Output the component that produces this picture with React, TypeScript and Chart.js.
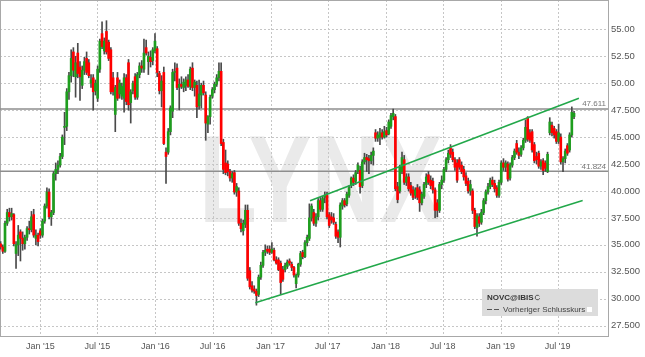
import React, { useEffect, useRef } from "react";
import { Chart, registerables } from "chart.js";

Chart.register(...registerables);

// Weekly candles [open, high, low, close]; week index 0 = week of 1 Jan 2015
const FIRST_WEEK = -18;

const candles2014 = [
  [35.1, 35.3, 34.6, 34.8], [34.8, 35.0, 34.2, 34.4], [34.4, 37.2, 34.3, 37.0], [37.0, 38.3, 36.8, 38.0],
  [38.0, 38.4, 37.2, 37.6], [37.6, 38.4, 37.3, 37.9], [37.8, 37.9, 34.9, 35.1], [34.2, 35.3, 32.8, 35.0],
  [35.0, 36.8, 34.0, 35.9], [36.2, 36.4, 33.5, 35.6], [35.6, 36.2, 34.5, 35.1], [35.1, 35.9, 34.6, 35.7],
  [35.7, 36.7, 35.4, 36.5], [36.5, 37.2, 36.0, 36.4], [36.4, 38.1, 36.2, 37.6], [37.8, 38.3, 35.7, 35.9],
  [35.6, 36.4, 35.0, 35.9], [35.9, 36.1, 34.9, 35.3],
];

const candles2015 = [
  [36.3, 36.5, 35.6, 35.9], [35.9, 37.4, 35.7, 37.2], [37.2, 38.8, 37.0, 38.6], [38.6, 40.3, 38.4, 39.9],
  [39.9, 40.2, 37.4, 37.6], [37.6, 38.2, 36.8, 38.0], [38.0, 41.8, 37.8, 41.6], [41.6, 42.6, 41.0, 42.0],
  [42.0, 42.8, 41.6, 42.4], [42.4, 43.5, 42.2, 43.2], [43.2, 45.2, 43.0, 45.0], [45.9, 47.3, 44.3, 46.0],
  [46.0, 49.5, 45.6, 49.2], [49.2, 51.0, 48.5, 50.7], [50.7, 53.1, 50.1, 52.3], [52.9, 53.3, 50.6, 51.2],
  [50.6, 52.5, 48.7, 51.9], [52.8, 53.7, 50.5, 50.9], [51.5, 52.0, 48.4, 50.6], [49.8, 51.6, 49.5, 51.2],
  [51.2, 52.4, 50.8, 52.0], [52.3, 52.9, 50.8, 51.0], [51.9, 52.2, 50.5, 50.7], [50.0, 50.8, 49.6, 50.3],
  [50.5, 50.8, 47.5, 49.2], [49.3, 50.3, 48.9, 50.0], [48.6, 51.6, 48.3, 51.3], [51.3, 54.1, 51.0, 53.9],
  [54.6, 55.7, 53.2, 53.4], [53.0, 54.2, 52.7, 53.9], [54.8, 55.8, 52.7, 52.9], [53.8, 54.0, 52.1, 52.3],
  [53.1, 53.3, 49.0, 49.2], [50.5, 51.0, 48.9, 49.2], [47.1, 49.8, 45.5, 49.6], [50.5, 51.0, 48.4, 48.6],
  [49.0, 50.3, 48.6, 50.0], [48.8, 50.0, 48.5, 49.7], [48.6, 50.9, 47.3, 50.5], [50.5, 50.8, 48.0, 48.3],
  [51.9, 52.2, 47.5, 48.0], [48.2, 49.4, 46.3, 49.2], [49.3, 50.2, 49.0, 50.0], [50.6, 50.9, 48.5, 48.7],
  [48.7, 51.0, 48.5, 50.8], [50.8, 51.9, 50.5, 51.6], [51.6, 52.1, 51.0, 51.4], [51.3, 54.1, 51.0, 52.8],
  [53.3, 54.0, 52.6, 52.8], [52.0, 52.9, 50.8, 52.5], [52.4, 53.0, 51.5, 52.0], [52.1, 53.3, 51.7, 53.1],
];

const candles2016 = [
  [53.0, 54.6, 52.8, 53.9], [53.2, 53.4, 50.6, 51.0], [50.9, 51.1, 49.0, 49.3], [49.3, 50.7, 47.8, 50.2],
  [51.0, 51.5, 44.3, 44.4], [43.6, 44.0, 40.7, 43.2], [43.6, 45.8, 43.4, 45.5], [45.5, 47.9, 45.2, 47.7],
  [47.4, 51.3, 46.8, 51.0], [51.0, 51.9, 50.2, 51.1], [51.4, 51.8, 49.4, 49.6], [49.6, 50.4, 47.5, 49.9],
  [49.9, 50.6, 49.5, 49.7], [49.6, 50.4, 49.2, 50.1], [49.8, 50.6, 49.3, 50.3], [50.3, 50.8, 49.6, 49.7],
  [49.7, 51.5, 49.4, 51.3], [51.4, 51.9, 49.3, 49.6], [49.6, 50.3, 48.8, 50.1], [49.8, 50.2, 46.8, 47.8],
  [47.9, 50.3, 47.6, 49.0], [48.9, 50.0, 47.7, 49.8], [49.8, 50.2, 48.9, 49.1], [48.9, 49.2, 44.7, 46.3],
  [46.2, 47.0, 45.4, 46.9], [46.9, 48.9, 46.2, 48.7], [48.8, 49.6, 48.6, 49.4], [49.4, 50.1, 49.1, 49.9],
  [49.9, 50.8, 49.7, 50.5], [50.5, 51.9, 50.2, 51.1], [51.1, 51.9, 44.2, 44.4], [44.5, 44.8, 41.6, 42.0],
  [42.6, 43.8, 41.5, 41.7], [42.5, 42.8, 41.4, 41.8], [41.8, 42.0, 40.9, 41.2], [41.2, 41.8, 40.8, 41.6],
  [41.7, 41.9, 39.7, 39.9], [39.9, 40.7, 39.5, 40.4], [40.0, 40.3, 36.8, 37.0], [37.0, 37.4, 36.2, 36.5],
  [36.3, 37.3, 35.9, 37.0], [36.9, 38.7, 36.6, 38.2], [38.2, 38.7, 31.7, 31.9], [32.6, 32.9, 30.9, 31.1],
  [31.2, 31.6, 30.6, 30.8], [30.9, 31.2, 30.5, 30.7], [30.7, 30.9, 29.4, 30.3], [30.4, 32.2, 30.2, 32.0],
  [32.0, 33.4, 31.8, 33.1], [33.1, 34.5, 32.9, 34.3], [34.3, 35.0, 34.0, 34.5], [34.6, 34.9, 34.2, 34.4],
];

const candles2017 = [
  [34.6, 34.9, 34.1, 34.3], [34.3, 35.2, 34.2, 34.6], [34.5, 34.7, 33.5, 33.6], [33.6, 33.9, 33.2, 33.3],
  [33.6, 33.8, 32.6, 32.7], [33.3, 33.5, 30.4, 31.5], [32.7, 33.0, 31.6, 31.8], [32.7, 33.3, 32.5, 33.1],
  [33.0, 33.6, 32.8, 33.4], [33.5, 33.7, 33.1, 33.3], [33.2, 33.4, 32.6, 32.9], [32.9, 33.0, 32.0, 32.2],
  [31.4, 32.3, 31.0, 32.2], [32.2, 33.3, 32.0, 33.2], [33.2, 34.4, 33.0, 34.2], [34.3, 34.5, 33.7, 33.9],
  [33.9, 35.4, 33.8, 35.2], [35.2, 35.9, 34.9, 35.7], [35.6, 38.8, 35.4, 37.5], [37.5, 38.8, 37.2, 38.6],
  [38.0, 38.3, 36.8, 37.0], [37.0, 37.9, 36.7, 37.6], [37.6, 39.3, 37.3, 39.1], [39.1, 39.4, 38.1, 38.3],
  [38.3, 39.5, 38.1, 39.3], [39.4, 39.9, 38.9, 39.6], [39.6, 39.9, 37.4, 37.6], [37.8, 38.0, 36.6, 36.8],
  [37.6, 38.0, 37.0, 37.3], [37.5, 37.9, 36.9, 37.1], [36.9, 37.1, 35.6, 35.8], [36.2, 36.4, 35.2, 35.7],
  [35.7, 38.9, 34.8, 38.7], [38.6, 39.3, 38.3, 39.1], [39.1, 39.3, 38.5, 38.7], [38.8, 39.9, 38.6, 39.7],
  [39.6, 40.5, 39.4, 40.3], [40.5, 41.3, 40.3, 41.2], [41.2, 41.5, 40.5, 40.8], [40.9, 41.9, 40.6, 41.7],
  [41.8, 42.6, 41.6, 42.4], [41.9, 42.3, 39.8, 40.4], [40.5, 42.9, 40.3, 42.7], [42.7, 43.5, 42.5, 43.1],
  [43.1, 43.4, 41.8, 42.9], [43.0, 43.3, 41.6, 42.8], [42.8, 43.6, 42.5, 43.3], [43.3, 44.0, 42.4, 43.7],
  [45.4, 45.7, 44.6, 44.9], [44.9, 45.5, 44.6, 45.2], [45.0, 45.8, 44.3, 45.4], [45.4, 45.7, 44.8, 45.0],
];

const candles2018 = [
  [45.0, 46.0, 44.9, 45.5], [45.6, 45.9, 45.0, 45.2], [45.3, 46.6, 45.2, 46.4], [46.0, 47.2, 45.8, 47.0],
  [46.9, 47.6, 46.6, 47.2], [46.9, 47.1, 40.0, 40.2], [40.4, 40.8, 38.9, 39.2], [40.0, 42.4, 39.8, 42.2],
  [41.8, 43.6, 41.6, 43.1], [42.9, 43.3, 40.6, 40.8], [40.8, 41.6, 40.5, 41.3], [41.3, 41.6, 40.0, 40.2],
  [40.5, 40.8, 39.6, 39.8], [40.1, 40.4, 39.2, 39.4], [39.6, 40.3, 39.3, 40.1], [40.3, 40.6, 39.2, 39.4],
  [40.1, 40.4, 38.1, 38.9], [38.9, 39.9, 38.7, 39.7], [39.5, 40.8, 39.3, 40.6], [40.6, 41.6, 40.3, 41.3],
  [41.5, 41.8, 40.6, 40.8], [41.0, 41.4, 40.2, 40.5], [40.9, 41.2, 39.8, 40.1], [40.1, 40.3, 37.5, 38.2],
  [38.9, 39.2, 37.6, 38.2], [38.2, 40.8, 38.0, 40.6], [40.6, 41.4, 40.2, 41.0], [41.0, 42.2, 40.8, 42.0],
  [42.0, 43.1, 41.8, 42.9], [42.9, 43.8, 42.6, 43.5], [44.0, 44.3, 43.1, 43.4], [43.6, 43.9, 42.7, 42.9],
  [42.9, 43.1, 41.9, 42.2], [42.6, 42.9, 40.8, 41.0], [42.9, 43.1, 42.0, 42.2], [42.4, 42.7, 41.6, 41.8],
  [42.0, 42.3, 41.0, 41.3], [41.4, 41.7, 40.5, 40.7], [40.9, 41.2, 39.8, 40.0], [40.0, 41.0, 39.6, 40.6],
  [40.0, 40.2, 37.9, 38.2], [38.2, 38.4, 36.5, 36.7], [36.6, 37.9, 35.8, 37.7], [37.6, 37.9, 36.7, 37.0],
  [37.1, 38.3, 36.9, 38.0], [38.0, 39.3, 37.8, 39.1], [39.1, 40.1, 38.8, 39.9], [39.9, 40.7, 39.7, 40.4],
  [40.4, 41.2, 40.2, 41.0], [41.0, 41.3, 40.4, 40.6], [40.7, 41.0, 39.9, 40.2], [40.3, 40.5, 39.4, 39.6],
];

const candles2019 = [
  [39.6, 41.0, 39.4, 40.8], [40.8, 42.8, 40.6, 42.6], [42.6, 43.0, 41.9, 42.2], [42.2, 42.8, 41.8, 42.6],
  [42.5, 42.7, 40.9, 41.1], [41.2, 42.6, 41.0, 42.4], [42.4, 43.3, 42.2, 43.1], [43.1, 43.9, 42.9, 43.7],
  [44.4, 44.7, 43.4, 43.6], [43.6, 44.0, 43.0, 43.3], [43.4, 44.2, 43.2, 44.0], [44.0, 44.9, 43.8, 44.7],
  [44.7, 46.6, 44.5, 45.9], [46.8, 46.9, 44.6, 44.8], [45.4, 45.7, 44.5, 44.7], [45.5, 45.7, 43.6, 43.8],
  [44.3, 44.5, 42.6, 42.8], [43.2, 43.6, 42.5, 42.9], [43.5, 43.7, 42.1, 42.3], [42.3, 42.9, 42.0, 42.7],
  [42.8, 43.0, 41.5, 41.9], [42.6, 42.8, 41.8, 42.1], [41.8, 43.6, 41.7, 43.4], [45.4, 46.8, 45.2, 46.4],
  [46.1, 46.4, 45.1, 45.4], [45.8, 46.0, 44.9, 45.2], [45.5, 45.7, 44.4, 44.6], [44.6, 46.2, 44.4, 45.4],
  [45.0, 45.3, 42.5, 42.7], [42.7, 43.2, 41.8, 43.0], [43.0, 43.9, 42.6, 43.7], [44.2, 44.4, 43.3, 43.5],
  [43.8, 45.4, 43.6, 45.2], [45.2, 47.8, 45.0, 47.3], [46.9, 47.4, 46.7, 47.2],
];

// x-axis month ticks
const tickDates = [
  [2015, 0], [2015, 6], [2016, 0], [2016, 6], [2017, 0],
  [2017, 6], [2018, 0], [2018, 6], [2019, 0], [2019, 6],
];
const tickLabels = ["Jan '15", "Jul '15", "Jan '16", "Jul '16", "Jan '17", "Jul '17", "Jan '18", "Jul '18", "Jan '19", "Jul '19"];

const priceTicks = [27.5, 30, 32.5, 35, 37.5, 40, 42.5, 45, 47.5, 50, 52.5, 55];

const X_MIN = -18.27;
const X_MAX = 257.4;
const Y_MIN = 26.54;
const Y_MAX = 57.72;

const prevCloseLevels = [47.611, 41.824];
const upperChannel = [{ x: 122.3, y: 39.1 }, { x: 244.2, y: 48.6 }];
const lowerChannel = [{ x: 97.5, y: 29.63 }, { x: 245.9, y: 39.11 }];

const UP = "#1e9e1e";
const DOWN = "#ff0000";
const WICK = "#4a4a4a";
const CHANNEL = "#22a84a";
const FONT = '"Liberation Sans", Arial, sans-serif';

const candles = [...candles2014, ...candles2015, ...candles2016, ...candles2017, ...candles2018, ...candles2019];
const weekOfDate = (y: number, m: number) => (Date.UTC(y, m, 1) - Date.UTC(2015, 0, 1)) / (7 * 864e5);
const tickWeeks = tickDates.map(([y, m]) => weekOfDate(y, m));

const decorPlugin = {
  id: "decor",
  beforeDraw(chart: any) {
    const { ctx } = chart;
    ctx.save();
    ctx.fillStyle = "#eaeaea";
    ctx.font = `bold 124px ${FONT}`;
    ctx.textBaseline = "alphabetic";
    const w = ctx.measureText("LYNX").width;
    ctx.translate(199, 222);
    ctx.scale(244 / w, 1);
    ctx.fillText("LYNX", 0, 0);
    ctx.restore();
  },
  beforeDatasetsDraw(chart: any) {
    const { ctx, chartArea: a, scales } = chart;
    const xs = scales.x;
    const ys = scales.y;
    ctx.save();
    ctx.strokeStyle = "#c6c6c6";
    ctx.lineWidth = 1;
    ctx.setLineDash([2, 2]);
    ctx.beginPath();
    xs.ticks.forEach((t: any) => {
      const px = Math.round(xs.getPixelForValue(t.value)) + 0.5;
      ctx.moveTo(px, a.top);
      ctx.lineTo(px, a.bottom);
    });
    ys.ticks.forEach((t: any) => {
      const py = Math.round(ys.getPixelForValue(t.value)) + 0.5;
      ctx.moveTo(a.left, py);
      ctx.lineTo(a.right, py);
    });
    ctx.stroke();
    ctx.setLineDash([]);
    ctx.strokeStyle = "#a8a8a8";
    ctx.strokeRect(a.left + 0.5, a.top + 0.5, a.right - a.left, a.bottom - a.top);
    ctx.restore();
  },
  afterDatasetsDraw(chart: any) {
    const { ctx, chartArea: a, scales } = chart;
    const ys = scales.y;
    ctx.save();
    ctx.font = `8px ${FONT}`;
    ctx.fillStyle = "#777";
    ctx.textAlign = "right";
    ctx.textBaseline = "middle";
    prevCloseLevels.forEach((v) => {
      ctx.fillText(v.toFixed(3), a.right - 2, ys.getPixelForValue(v) - 5);
    });
    // legend box
    ctx.fillStyle = "#dcdcdc";
    ctx.fillRect(482, 289, 116, 27);
    ctx.textAlign = "left";
    ctx.fillStyle = "#333";
    ctx.font = `bold 8px ${FONT}`;
    ctx.fillText("NOVC@IBIS", 487, 297.5);
    ctx.strokeStyle = "#555";
    ctx.lineWidth = 1;
    ctx.beginPath();
    ctx.arc(537.5, 297.5, 2.3, 0.3, Math.PI * 1.8);
    ctx.stroke();
    ctx.beginPath();
    ctx.moveTo(487, 309.5);
    ctx.lineTo(492, 309.5);
    ctx.moveTo(494, 309.5);
    ctx.lineTo(499, 309.5);
    ctx.stroke();
    ctx.font = `8px ${FONT}`;
    ctx.fillStyle = "#444";
    ctx.fillText("Vorheriger Schlusskurs", 503, 309.5);
    ctx.fillStyle = "#fff";
    ctx.fillRect(587, 307, 5, 5);
    ctx.restore();
  },
};

export default function App() {
  const ref = useRef<HTMLCanvasElement | null>(null);

  useEffect(() => {
    if (!ref.current) return;
    const wickData = candles.map((c, i) => ({ x: FIRST_WEEK + i, y: [c[2], c[1]] }));
    const bodyData = candles.map((c, i) => ({ x: FIRST_WEEK + i, y: [c[0], c[3]] }));
    const bodyColors = candles.map((c) => (c[3] >= c[0] ? UP : DOWN));
    const levelLine = (v: number) => [{ x: X_MIN, y: v }, { x: X_MAX, y: v }];

    const chart = new Chart(ref.current, {
      type: "bar",
      data: {
        datasets: [
          {
            type: "line",
            data: upperChannel,
            borderColor: CHANNEL,
            borderWidth: 1.6,
            pointRadius: 0,
            order: 0,
          } as any,
          {
            type: "line",
            data: lowerChannel,
            borderColor: CHANNEL,
            borderWidth: 1.6,
            pointRadius: 0,
            order: 0,
          } as any,
          {
            type: "bar",
            data: bodyData,
            backgroundColor: bodyColors,
            barThickness: 2,
            minBarLength: 1,
            grouped: false,
            order: 1,
          } as any,
          {
            type: "bar",
            data: wickData,
            backgroundColor: WICK,
            barThickness: 1,
            grouped: false,
            order: 2,
          } as any,
          ...prevCloseLevels.map(
            (v) =>
              ({
                type: "line",
                data: levelLine(v),
                borderColor: "#8e8e8e",
                borderWidth: 1.5,
                pointRadius: 0,
                order: 3,
              } as any)
          ),
        ],
      },
      options: {
        animation: false,
        responsive: false,
        devicePixelRatio: 1,
        events: [],
        layout: { padding: 0 },
        plugins: { legend: { display: false }, tooltip: { enabled: false } },
        scales: {
          x: {
            type: "linear",
            min: X_MIN,
            max: X_MAX,
            offset: false,
            grid: { display: false, drawTicks: false, offset: false },
            border: { display: false },
            afterBuildTicks: (s: any) => {
              s.ticks = tickWeeks.map((v) => ({ value: v }));
            },
            afterFit: (s: any) => {
              s.height = 21;
              s.paddingLeft = 0;
              s.paddingRight = 0;
            },
            ticks: {
              autoSkip: false,
              maxRotation: 0,
              minRotation: 0,
              padding: 5,
              color: "#555",
              font: { size: 9, family: FONT },
              callback: (v: any) => {
                const idx = tickWeeks.findIndex((t) => Math.abs(t - v) < 1e-6);
                return idx >= 0 ? tickLabels[idx] : "";
              },
            },
          },
          y: {
            type: "linear",
            position: "right",
            min: Y_MIN,
            max: Y_MAX,
            grid: { display: false, drawTicks: false },
            border: { display: false },
            afterBuildTicks: (s: any) => {
              s.ticks = priceTicks.map((v) => ({ value: v }));
            },
            afterFit: (s: any) => {
              s.width = 37;
              s.paddingTop = 0;
              s.paddingBottom = 0;
            },
            ticks: {
              padding: 3,
              color: "#555",
              font: { size: 9.5, family: FONT },
              callback: (v: any) => (v >= 50 ? Number(v).toFixed(2) : Number(v).toFixed(3)),
            },
          },
        },
      },
      plugins: [decorPlugin],
    } as any);

    return () => chart.destroy();
  }, []);

  return (
    <div style={{ position: "fixed", left: 0, top: 0, width: 645, height: 357, background: "#fff" }}>
      <canvas ref={ref} width={645} height={357} style={{ display: "block" }} />
    </div>
  );
}
